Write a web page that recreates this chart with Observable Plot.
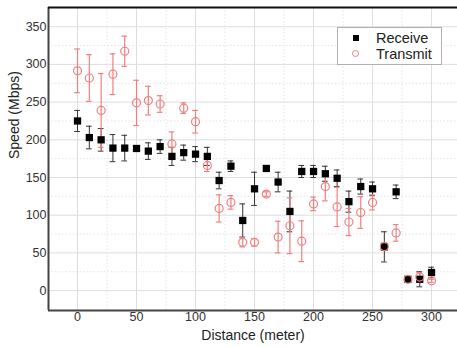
<!DOCTYPE html>
<html>
<head>
<meta charset="utf-8">
<script src="https://cdn.jsdelivr.net/npm/d3@7"></script>
<script src="https://cdn.jsdelivr.net/npm/@observablehq/plot@0.6"></script>
<style>
  html, body { margin: 0; padding: 0; background: #fff; }
  #wrap { position: relative; width: 457px; height: 347px; font-family: "Liberation Sans", Arial, sans-serif; }
  #legend { position: absolute; left: 337px; top: 27px; width: 105px; height: 38px; border: 1px solid #b0b0b0; background: #fff; box-sizing: border-box; font-size: 14.5px; color: #222; }
  .row { position: absolute; left: 0; height: 16px; line-height: 16px; }
  .sq { position: absolute; left: 15px; top: 5px; width: 6px; height: 6px; background: #000; }
  .ci { position: absolute; left: 14px; top: 4px; width: 7px; height: 7px; border: 1px solid #f08080; border-radius: 50%; box-sizing: border-box; }
  .lab { position: absolute; left: 38px; top: 0; white-space: nowrap; }
</style>
</head>
<body>
<div id="wrap"></div>
<script>
const distance = [0,10,20,30,40,50,60,70,80,90,100,110,120,130,140,150,160,170,180,190,200,210,220,230,240,250,260,270,280,290,300];
const receive = [225,203,200,189,189,188.5,185,191,178,183,181,178,146,165,93,135,162,144,105,158,158,155,149,118,138,135,58,131,15,15,24];
const receiveErr = [14,15,15,18,17,2,11,9,12,10,10,12,11,7,22,22,3,13,27,8,8,10,11,14,10,9,20,9,3,10,7];
const transmit = [291.5,282,239,287,317.5,249,252,247.5,194.5,242,224,166,109,117,64,64,128,71,86,65.5,115,138,111,91,103.6,117,58.5,76.5,15,18,13];
const transmitErr = [29,31,49,27,20,30,19,11,16,7,15,8,18,9,6,5,3,21,37,27,9,19,26,18,21,10,5,11,3,6,2];
const seriesNames = ["Receive", "Transmit"];
const xTicks = [0,50,100,150,200,250,300];
const yTicks = [0,50,100,150,200,250,300,350];
const xMinor = [25,75,125,175,225,275];
const yMinor = [25,75,125,175,225,275,325];
const xDomain = [-24.6, 322];
const yDomain = [-26.4, 375.5];

const rec = distance.map((x, i) => ({x, y: receive[i], e: receiveErr[i]}));
const tra = distance.map((x, i) => ({x, y: transmit[i], e: transmitErr[i]}));
const cap = 2.4;
const recColor = "#333";
const traColor = "#f08080";

const chart = Plot.plot({
  width: 457,
  height: 347,
  marginLeft: 48,
  marginRight: 0,
  marginTop: 7,
  marginBottom: 37,
  style: {fontFamily: "Liberation Sans, Arial, sans-serif", fontSize: "12.5px", color: "#333", background: "#fff"},
  x: {domain: xDomain, ticks: xTicks, tickSize: 0, tickPadding: 2, label: null},
  y: {domain: yDomain, ticks: yTicks, tickSize: 0, tickPadding: 2, label: null},
  marks: [
    Plot.ruleX(xMinor, {stroke: "#e4e4e4", strokeDasharray: "1.5,2"}),
    Plot.ruleY(yMinor, {stroke: "#e4e4e4", strokeDasharray: "1.5,2"}),
    Plot.ruleX(xTicks, {stroke: "#dedede", strokeWidth: 1}),
    Plot.ruleY(yTicks, {stroke: "#dedede", strokeWidth: 1}),
    Plot.ruleX([xDomain[0]], {stroke: "#444", strokeWidth: 2}),
    Plot.ruleY([yDomain[0]], {stroke: "#444", strokeWidth: 2}),
    Plot.ruleY([yDomain[1]], {stroke: "#111", strokeWidth: 2}),
    // receive error bars
    Plot.ruleX(rec, {x: "x", y1: d => d.y - d.e, y2: d => d.y + d.e, stroke: recColor, strokeWidth: 1}),
    Plot.ruleY(rec, {y: d => d.y - d.e, x1: d => d.x - cap, x2: d => d.x + cap, stroke: recColor, strokeWidth: 1}),
    Plot.ruleY(rec, {y: d => d.y + d.e, x1: d => d.x - cap, x2: d => d.x + cap, stroke: recColor, strokeWidth: 1}),
    // transmit error bars
    Plot.ruleX(tra, {x: "x", y1: d => d.y - d.e, y2: d => d.y + d.e, stroke: traColor, strokeWidth: 1.2}),
    Plot.ruleY(tra, {y: d => d.y - d.e, x1: d => d.x - cap, x2: d => d.x + cap, stroke: traColor, strokeWidth: 1.2}),
    Plot.ruleY(tra, {y: d => d.y + d.e, x1: d => d.x - cap, x2: d => d.x + cap, stroke: traColor, strokeWidth: 1.2}),
    Plot.dot(rec, {x: "x", y: "y", symbol: "square", r: 4.1, fill: "#000", stroke: "none"}),
    Plot.dot(tra, {x: "x", y: "y", symbol: "circle", r: 4, fill: "none", stroke: traColor, strokeWidth: 1.2}),
    Plot.text(["Speed (Mbps)"], {frameAnchor: "left", rotate: -90, dx: -34, fontSize: 14, fill: "#222"}),
    Plot.text(["Distance (meter)"], {frameAnchor: "bottom", lineAnchor: "middle", dy: 25, fontSize: 14, fill: "#222"})
  ]
});

const wrap = document.getElementById("wrap");
wrap.appendChild(chart);
const legend = document.createElement("div");
legend.id = "legend";
legend.innerHTML =
  `<div class="row" style="top:2px;width:100%"><div class="sq"></div><div class="lab">${seriesNames[0]}</div></div>` +
  `<div class="row" style="top:18px;width:100%"><div class="ci"></div><div class="lab">${seriesNames[1]}</div></div>`;
wrap.appendChild(legend);
</script>
</body>
</html>
